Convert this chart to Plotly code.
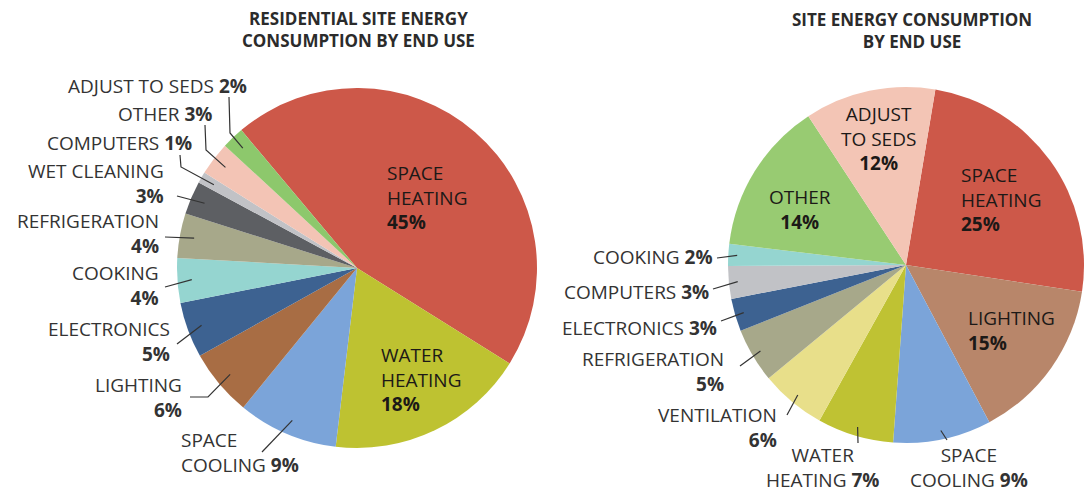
import math
import plotly.graph_objects as go

W, H = 1084, 492

# ---- data: residential (left) ----
res_labels = ["SPACE HEATING", "WATER HEATING", "SPACE COOLING", "LIGHTING", "ELECTRONICS",
              "COOKING", "REFRIGERATION", "WET CLEANING", "COMPUTERS", "OTHER", "ADJUST TO SEDS"]
res_values = [45, 18, 9, 6, 5, 4, 4, 3, 1, 3, 2]
res_colors = ["#CD5849", "#BEC231", "#7BA4D9", "#A86D44", "#3D6291",
              "#95D5D0", "#A7A88A", "#5D5F63", "#C1C2C6", "#F3C4B5", "#8DC86C"]

# ---- data: site (right) ----
com_labels = ["SPACE HEATING", "LIGHTING", "SPACE COOLING", "WATER HEATING", "VENTILATION",
              "REFRIGERATION", "ELECTRONICS", "COMPUTERS", "COOKING", "OTHER", "ADJUST TO SEDS"]
com_values = [25, 15, 9, 7, 6, 5, 3, 3, 2, 14, 12]
com_colors = ["#CD5849", "#B8866A", "#7BA4D9", "#BFC233", "#E8DF8A",
              "#A7A88A", "#3D6291", "#C1C2C6", "#95D5D0", "#98CB72", "#F3C5B5"]

# pie geometry in pixels (center, radius, start angle clockwise from 12 o'clock)
LEFT = dict(cx=357, cy=268, r=180, rot=-40, k=0.92)
RIGHT = dict(cx=906, cy=265, r=178, rot=9.5, k=0.95)

FONT = "'Open Sans', Lato, sans-serif"
DARK = "#333333"
INK = "#1c1917"
LBL = 19    # label size
TTL = 17    # title size


def px(x):
    return x / W


def py(y):
    return 1 - y / H


def domain(g):
    return dict(x=[px(g["cx"] - g["r"]), min(1.0, px(g["cx"] + g["r"]))],
                y=[py(g["cy"] + g["r"]), py(g["cy"] - g["r"])])


def mid_point(g, labels, values, name):
    # middle of the slice, in pixels, worked out from the data
    tot = float(sum(values))
    i = labels.index(name)
    frac = (sum(values[:i]) + values[i] / 2.0) / tot
    ang = math.radians(g["rot"] + 360 * frac)
    rr = g["r"] * g["k"]
    return g["cx"] + rr * math.sin(ang), g["cy"] - rr * math.cos(ang)


fig = go.Figure()
for g, labs, vals, cols in [(LEFT, res_labels, res_values, res_colors),
                            (RIGHT, com_labels, com_values, com_colors)]:
    fig.add_trace(go.Pie(
        labels=labs, values=vals, sort=False, direction="clockwise",
        rotation=g["rot"], domain=domain(g), textinfo="none",
        marker=dict(colors=cols, line=dict(width=0)),
        hovertemplate="%{label}: %{value}%<extra></extra>",
        showlegend=False,
    ))

annos = []
shapes = []


def label(txt, x, y, xanchor="right", color=DARK, size=LBL):
    # y is the middle of the whole text block
    annos.append(dict(
        text=txt, x=px(x), y=py(y), xref="paper", yref="paper",
        xanchor=xanchor, yanchor="middle", align=xanchor,
        showarrow=False, borderpad=0,
        font=dict(family=FONT, size=size, color=color),
    ))


def leader(g, labels, values, name, pts):
    ex, ey = mid_point(g, labels, values, name)
    pts = pts + [(ex, ey)]
    path = "M " + " L ".join(f"{px(a):.5f},{py(b):.5f}" for a, b in pts)
    shapes.append(dict(type="path", path=path, xref="paper", yref="paper",
                       line=dict(color=DARK, width=1.2)))


# titles
label("<b>RESIDENTIAL SITE ENERGY<br>CONSUMPTION BY END USE</b>", 358, 29,
      xanchor="center", size=TTL, color="#2b2b2b")
label("<b>SITE ENERGY CONSUMPTION<br>BY END USE</b>", 912, 31,
      xanchor="center", size=TTL, color="#2b2b2b")

# ---- left pie labels ----
label("SPACE<br>HEATING<br><b>45%</b>", 386, 197, "left", INK)
label("WATER<br>HEATING<br><b>18%</b>", 380, 379, "left", INK)

left_out = [
    ("ADJUST TO SEDS", "ADJUST TO SEDS <b>2%</b>", 248, 86, "right", [(229, 97), (230, 133)]),
    ("OTHER", "OTHER <b>3%</b>", 213, 114, "right", [(205, 125), (206, 150)]),
    ("COMPUTERS", "COMPUTERS <b>1%</b>", 193, 143, "right", [(180, 155), (181, 167)]),
    ("WET CLEANING", "WET CLEANING<br><b>3%</b>", 165, 183, "right", [(177, 196)]),
    ("REFRIGERATION", "REFRIGERATION<br><b>4%</b>", 160, 233, "right", [(165, 237)]),
    ("COOKING", "COOKING<br><b>4%</b>", 160, 285, "right", [(165, 287)]),
    ("ELECTRONICS", "ELECTRONICS<br><b>5%</b>", 171, 341, "right", [(177, 344)]),
    ("LIGHTING", "LIGHTING<br><b>6%</b>", 183, 397, "right", [(190, 397), (208, 397)]),
    ("SPACE COOLING", "SPACE<br>COOLING <b>9%</b>", 180, 452, "left", [(262, 452)]),
]
for name, txt, x, y, xa, pts in left_out:
    label(txt, x, y, xa)
    leader(LEFT, res_labels, res_values, name, pts)

# ---- right pie labels ----
label("ADJUST<br>TO SEDS<br><b>12%</b>", 878, 139, "center", INK)
label("SPACE<br>HEATING<br><b>25%</b>", 960, 199, "left", INK)
label("OTHER<br><b>14%</b>", 800, 209, "center", INK)
label("LIGHTING<br><b>15%</b>", 967, 330, "left", INK)

right_out = [
    ("COOKING", "COOKING <b>2%</b>", 714, 257, "right", [(717, 258)]),
    ("COMPUTERS", "COMPUTERS <b>3%</b>", 710, 292, "right", [(713, 289)]),
    ("ELECTRONICS", "ELECTRONICS <b>3%</b>", 718, 328, "right", [(721, 321)]),
    ("REFRIGERATION", "REFRIGERATION<br><b>5%</b>", 725, 371, "right", [(740, 366)]),
    ("VENTILATION", "VENTILATION<br><b>6%</b>", 778, 427, "right", [(787, 415)]),
    ("WATER HEATING", "WATER<br>HEATING <b>7%</b>", 822, 467, "center", [(858, 443)]),
    ("SPACE COOLING", "SPACE<br>COOLING <b>9%</b>", 969, 467, "center", [(947, 440)]),
]
for name, txt, x, y, xa, pts in right_out:
    label(txt, x, y, xa)
    leader(RIGHT, com_labels, com_values, name, pts)

fig.update_layout(
    width=W, height=H,
    margin=dict(l=0, r=0, t=0, b=0),
    paper_bgcolor="white", plot_bgcolor="white",
    font=dict(family=FONT, color=DARK),
    annotations=annos, shapes=shapes,
)

# page has an 8px body margin by default; drop it so the chart sits at 0,0
fig.write_html("out.html", config={"displayModeBar": False},
               post_script="document.body.style.margin='0';")
